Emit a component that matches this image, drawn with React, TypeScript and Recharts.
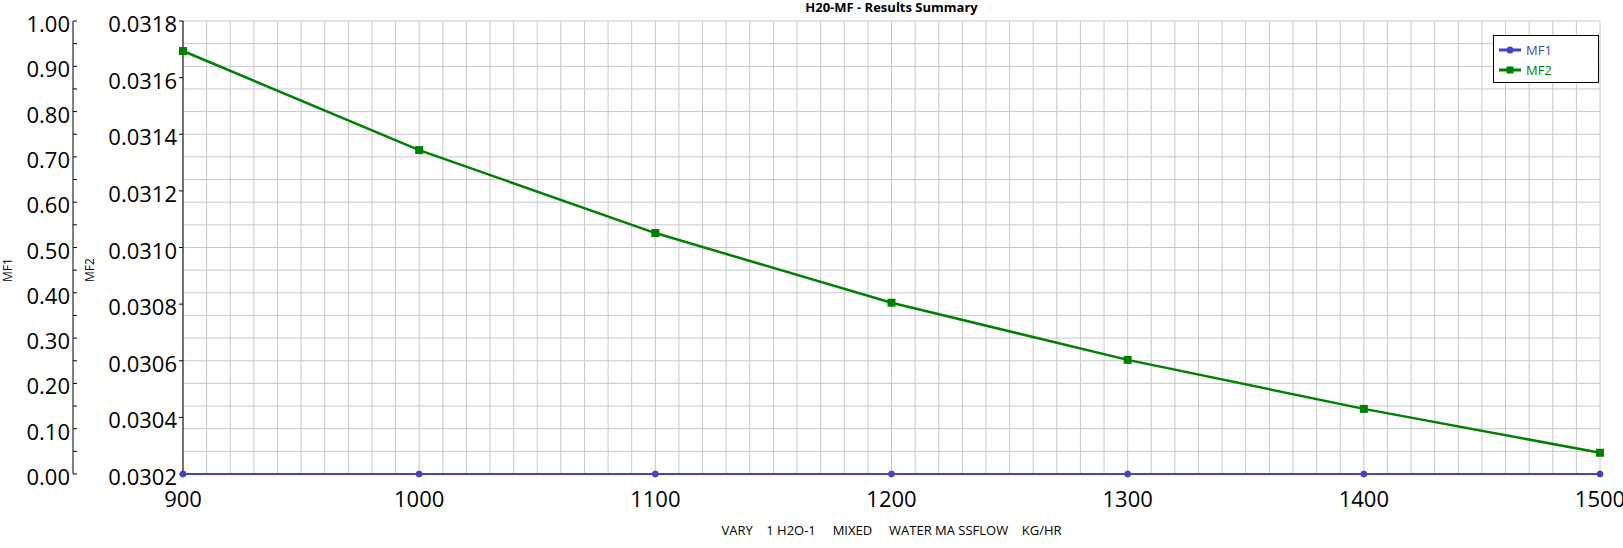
import { LineChart, Line, XAxis, YAxis, CartesianGrid, Legend } from "recharts";

// the page keeps the browser's 8px body margin otherwise
document.body.style.margin = "0";

// water mass flow (kg/hr) vs. mass fractions
const massFlow = [900, 1000, 1100, 1200, 1300, 1400, 1500];
const mf1 = [0, 0, 0, 0, 0, 0, 0];
const mf2 = [0.031694, 0.031344, 0.031051, 0.030805, 0.030603, 0.03043, 0.030275];

const xTicks = [900, 1000, 1100, 1200, 1300, 1400, 1500];
const mf1Ticks = [
  0, 0.05, 0.1, 0.15, 0.2, 0.25, 0.3, 0.35, 0.4, 0.45, 0.5, 0.55, 0.6, 0.65, 0.7, 0.75, 0.8, 0.85,
  0.9, 0.95, 1,
];
const mf2Ticks = [0.0302, 0.0304, 0.0306, 0.0308, 0.031, 0.0312, 0.0314, 0.0316, 0.0318];

const BLUE = "#4343c4";
const GREEN = "#008000";
const GRID = "#c8c8c8";
const FONT = '"Open Sans", "Noto Sans", sans-serif';

const data = massFlow.map((flow, i) => ({ flow, mf1: mf1[i], mf2: mf2[i] }));

// minor grid: every 10 kg/hr, every 0.05 on MF1
const gridX = Array.from({ length: 61 }, (_, i) => 900 + i * 10);

const XTick = ({ x, y, payload }: any) => (
  <text x={x} y={y + 33} textAnchor="middle" fontSize={22} fontFamily={FONT} fill="#000">
    {payload.value}
  </text>
);

const Mf1Tick = ({ x, y, payload }: any) => {
  const major = Math.round(payload.value * 100) % 10 === 0;
  return (
    <g>
      <line x1={x} x2={x + 4} y1={y} y2={y} stroke="#000" />
      {major && (
        <text x={x - 3} y={y + 11} textAnchor="end" fontSize={22} fontFamily={FONT} fill="#000">
          {payload.value.toFixed(2)}
        </text>
      )}
    </g>
  );
};

const Mf2Tick = ({ x, y, payload }: any) => (
  <text x={x} y={y + 11} textAnchor="end" fontSize={22} fontFamily={FONT} fill="#000">
    {payload.value.toFixed(4)}
  </text>
);

const SquareDot = ({ cx, cy, index }: any) => (
  <rect key={`sq-${index}`} x={cx - 4} y={cy - 4} width={8} height={8} fill={GREEN} />
);

const App = () => {
  return (
    <div style={{ position: "relative", width: 1623, height: 548, fontFamily: FONT }}>
      <LineChart width={1623} height={548} data={data} margin={{ top: 21, right: 23, left: 0, bottom: 18 }}>
        <CartesianGrid
          yAxisId="left2"
          stroke={GRID}
          strokeWidth={1}
          verticalValues={gridX}
          horizontalValues={mf1Ticks}
        />
        <XAxis
          dataKey="flow"
          type="number"
          domain={[900, 1500]}
          ticks={xTicks}
          interval={0}
          height={56}
          tickSize={0}
          tickMargin={0}
          tickLine={false}
          axisLine={false}
          tick={<XTick />}
        />
        <YAxis
          yAxisId="left1"
          type="number"
          domain={[0.0302, 0.0318]}
          ticks={mf2Ticks}
          interval={0}
          width={110}
          tickSize={4}
          tickMargin={2}
          tickLine={{ stroke: "#000" }}
          axisLine={{ stroke: "#000" }}
          tick={<Mf2Tick />}
        />
        <YAxis
          yAxisId="left2"
          type="number"
          domain={[0, 1]}
          ticks={mf1Ticks}
          interval={0}
          width={73}
          tickSize={0}
          tickMargin={0}
          tickLine={false}
          axisLine={{ stroke: "#000" }}
          tick={<Mf1Tick />}
        />
        <Legend
          layout="vertical"
          verticalAlign="middle"
          align="center"
          wrapperStyle={{ top: 35, left: 1493, right: "auto", bottom: "auto", width: 106, height: 48 }}
          content={({ payload }) => (
            <div
              style={{
                boxSizing: "border-box",
                width: 106,
                height: 48,
                border: "1px solid #000",
                background: "#fff",
                paddingTop: 4,
              }}
            >
              {payload?.map((item, index) => (
                <div
                  key={`item-${index}`}
                  style={{ display: "flex", alignItems: "center", height: 20, paddingLeft: 5 }}
                >
                  <svg width={22} height={10} style={{ marginRight: 5 }}>
                    <line x1={0} x2={22} y1={5} y2={5} stroke={item.color} strokeWidth={3} />
                    {item.value === "MF1" ? (
                      <circle cx={11} cy={5} r={3.5} fill={item.color} />
                    ) : (
                      <rect x={7.5} y={1.5} width={7} height={7} fill={item.color} />
                    )}
                  </svg>
                  <span style={{ fontSize: 13, color: item.color }}>{item.value}</span>
                </div>
              ))}
            </div>
          )}
        />
        <Line
          yAxisId="left2"
          type="linear"
          dataKey="mf1"
          name="MF1"
          stroke={BLUE}
          strokeWidth={2}
          dot={{ r: 3, fill: BLUE, stroke: BLUE, strokeWidth: 1 }}
          isAnimationActive={false}
        />
        <Line
          yAxisId="left1"
          type="linear"
          dataKey="mf2"
          name="MF2"
          stroke={GREEN}
          strokeWidth={2.5}
          dot={<SquareDot />}
          isAnimationActive={false}
        />
      </LineChart>

      <div
        style={{
          position: "absolute",
          left: 183,
          width: 1417,
          top: 1,
          textAlign: "center",
          fontSize: 13,
          lineHeight: "13px",
          fontWeight: 700,
        }}
      >
        H20-MF - Results Summary
      </div>
      <div
        style={{
          position: "absolute",
          left: 8,
          top: 270,
          transform: "translate(-50%, -50%) rotate(-90deg)",
          fontSize: 12,
          lineHeight: "12px",
        }}
      >
        MF1
      </div>
      <div
        style={{
          position: "absolute",
          left: 89.5,
          top: 270,
          transform: "translate(-50%, -50%) rotate(-90deg)",
          fontSize: 12,
          lineHeight: "12px",
        }}
      >
        MF2
      </div>
      <div
        style={{
          position: "absolute",
          left: 183,
          width: 1417,
          top: 522,
          textAlign: "center",
          fontSize: 13,
          lineHeight: "16px",
          whiteSpace: "pre",
        }}
      >
        {"VARY    1 H2O-1     MIXED     WATER MA SSFLOW    KG/HR"}
      </div>
    </div>
  );
};

export default App;
